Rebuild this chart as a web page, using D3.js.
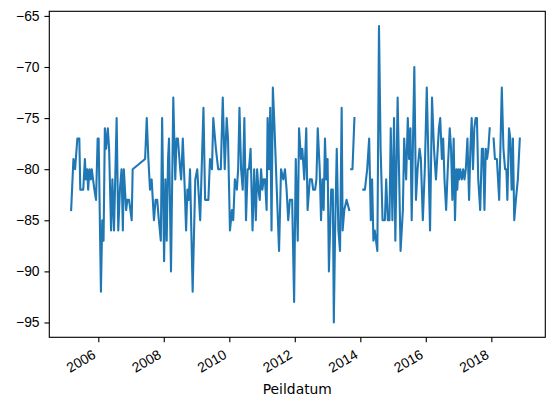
<!DOCTYPE html>
<html>
<head>
<meta charset="utf-8">
<script src="https://cdn.jsdelivr.net/npm/d3@7"></script>
<style>
  body { margin: 0; background: #fff; }
  svg { display: block; font-family: "DejaVu Sans", sans-serif; }
</style>
</head>
<body>
<svg id="chart" width="554" height="406"></svg>
<script>
// measurement dates as decimal years (null value = missing reading)
var peildatum = [
  2005.17, 2005.24, 2005.29, 2005.36, 2005.42, 2005.45, 2005.54, 2005.59, 2005.62, 2005.66,
  2005.69, 2005.73, 2005.77, 2005.80, 2005.88, 2005.93, 2005.98, 2006.01, 2006.08, 2006.12,
  2006.16, 2006.20, 2006.24, 2006.29, 2006.33, 2006.39, 2006.43, 2006.48, 2006.56, 2006.61,
  2006.66, 2006.71, 2006.75, 2006.78, 2006.85, 2006.89, 2006.94, 2007.02, 2007.05, 2007.43,
  2007.48, 2007.53, 2007.58, 2007.63, 2007.70, 2007.75, 2007.80, 2007.85, 2007.91, 2007.95,
  2008.01, 2008.05, 2008.09, 2008.13, 2008.16, 2008.22, 2008.29, 2008.35, 2008.39, 2008.43,
  2008.50, 2008.53, 2008.58, 2008.64, 2008.68, 2008.72, 2008.76, 2008.80, 2008.88, 2008.96,
  2009.02, 2009.11, 2009.21, 2009.26, 2009.36, 2009.41, 2009.47, 2009.51, 2009.59, 2009.66,
  2009.74, 2009.80, 2009.86, 2009.92, 2009.96, 2010.02, 2010.08, 2010.12, 2010.17, 2010.23,
  2010.27, 2010.31, 2010.36, 2010.41, 2010.46, 2010.51, 2010.56, 2010.60, 2010.65, 2010.71,
  2010.76, 2010.81, 2010.85, 2010.89, 2010.93, 2010.97, 2011.01, 2011.05, 2011.09, 2011.14,
  2011.17, 2011.21, 2011.25, 2011.29, 2011.33, 2011.37, 2011.45, 2011.52, 2011.58, 2011.65,
  2011.70, 2011.75, 2011.80, 2011.85, 2011.92, 2011.98, 2012.03, 2012.09, 2012.13, 2012.19,
  2012.23, 2012.29, 2012.35, 2012.39, 2012.46, 2012.52, 2012.56, 2012.62, 2012.66, 2012.70,
  2012.76, 2012.80, 2012.84, 2012.88, 2012.92, 2012.96, 2013.00, 2013.04, 2013.11, 2013.16,
  2013.19, 2013.23, 2013.28, 2013.33, 2013.38, 2013.43, 2013.46, 2013.51, 2013.58, 2013.66,
  2013.69, 2013.72, 2013.76, 2013.82, 2013.95, 2014.09, 2014.14, 2014.21, 2014.27, 2014.32,
  2014.36, 2014.40, 2014.44, 2014.52, 2014.57, 2014.62, 2014.68, 2014.75, 2014.79, 2014.84,
  2014.89, 2014.93, 2014.98, 2015.03, 2015.07, 2015.14, 2015.23, 2015.30, 2015.34, 2015.40,
  2015.45, 2015.49, 2015.53, 2015.57, 2015.61, 2015.65, 2015.70, 2015.75, 2015.81, 2015.85,
  2015.91, 2015.97, 2016.03, 2016.08, 2016.13, 2016.19, 2016.25, 2016.31, 2016.40, 2016.44,
  2016.49, 2016.53, 2016.57, 2016.62, 2016.67, 2016.73, 2016.77, 2016.81, 2016.85, 2016.89,
  2016.93, 2016.96, 2016.99, 2017.02, 2017.05, 2017.10, 2017.14, 2017.18, 2017.22, 2017.27,
  2017.32, 2017.36, 2017.40, 2017.44, 2017.48, 2017.52, 2017.56, 2017.60, 2017.66, 2017.71,
  2017.75, 2017.79, 2017.83, 2017.87, 2017.91, 2017.95, 2018.01, 2018.07, 2018.11, 2018.17,
  2018.24, 2018.32, 2018.37, 2018.42, 2018.46, 2018.49, 2018.54, 2018.58, 2018.62, 2018.66,
  2018.70, 2018.75, 2018.81, 2018.87
];

var waarde = [
  -84, -79, -80, -77, -77, -82, -82, -79, -81, -80,
  -82, -80, -81, -80, -82, -83, -77, -77, -92, -85,
  -87, -76, -78, -76, -78, -86, -81, -86, -75, -86,
  -82, -80, -86, -80, -84, -83, -83, -85, -80, -79,
  -75, -79, -82, -81, -85, -83, -83, -85, -87, -75,
  -89, -81, -87, -79, -77, -90, -73, -81, -77, -77,
  -80, -81, -77, -82, -86, -82, -83, -80, -92, -81,
  -80, -85, -74, -83, -83, -79, -80, -75, -78, -80,
  -80, -73, -80, -75, -77, -86, -84, -85, -81, -82,
  -80, -74, -80, -82, -75, -85, -80, -80, -78, -86,
  -80, -85, -80, -82, -83, -80, -82, -81, -81, -84,
  -75, -80, -74, -86, -72, -75, -82, -88, -80, -81,
  -80, -82, -85, -83, -83, -93, -79, -87, -76, -79,
  -78, -81, -76, -84, -81, -81, -82, -82, -81, -76,
  -80, -85, -81, -84, -77, -81, -79, -90, -82, -82,
  -95, -86, -78, -86, -88, -74, -86, -84, -83, -84,
  null, -80, -80, -75, null, -82, -82, -80, -77, -85,
  -81, -87, -86, -88, -66, -78, -85, -85, -81, -85,
  -85, -76, -85, -75, -87, -73, -88, -84, -77, -81,
  -75, -79, -76, -85, -77, -70, -83, -80, -78, -79,
  -85, -80, -72, -79, -86, -73, -78, -81, -76, -75,
  -79, -77, -81, -84, -80, -76, -78, -83, -77, -85,
  -80, -82, -80, -81, -80, -81, -80, -81, -80, -77,
  -83, -78, -75, -80, -76, -75, -75, -81, -84, -78,
  -78, -84, -78, -79, -78, -76, null, -77, -79, -79,
  -83, -72, -78, -80, -80, -83, -76, -77, -82, -77,
  -85, -83, -81, -77
];

var yTicks = [-95, -90, -85, -80, -75, -70, -65];
var xLimits = [2004.504, 2019.649];
var yLimits = [-96.45, -64.55];
var xLabel = 'Peildatum';

var margin = {top: 11.3, right: 8.7, bottom: 68.7, left: 49.3};
var width = 554 - margin.left - margin.right;
var height = 406 - margin.top - margin.bottom;
var pt = 100 / 72;

function toDate(t) {
  var y = Math.floor(t);
  var start = Date.UTC(y, 0, 1), end = Date.UTC(y + 1, 0, 1);
  return new Date(start + (t - y) * (end - start));
}

var ds = peildatum.map(function(t, i) {
  return {date: toDate(t), value: waarde[i]};
});

var svg = d3.select('#chart');
var g = svg.append('g')
  .attr('transform', 'translate(' + margin.left + ',' + margin.top + ')');

var xScale = d3.scaleUtc()
  .domain(xLimits.map(toDate))
  .range([0, width]);

var yScale = d3.scaleLinear()
  .domain(yLimits)
  .range([height, 0]);

var line = d3.line()
  .defined(function(d) { return d.value !== null; })
  .x(function(d) { return xScale(d.date); })
  .y(function(d) { return yScale(d.value); });

g.append('path')
  .datum(ds)
  .attr('fill', 'none')
  .attr('stroke', '#1f77b4')
  .attr('stroke-width', 1.5 * pt)
  .attr('stroke-linejoin', 'round')
  .attr('stroke-linecap', 'square')
  .attr('d', line);

// y axis
var yAxis = d3.axisLeft(yScale)
  .tickValues(yTicks)
  .tickSize(3.5 * pt)
  .tickPadding(3.5 * pt)
  .tickFormat(d3.format('d'));

var yG = g.append('g').call(yAxis);
yG.select('.domain').remove();
yG.selectAll('line').attr('stroke', '#000').attr('stroke-width', 0.8 * pt);
yG.selectAll('text')
  .attr('fill', '#000')
  .attr('font-size', 10 * pt)
  .attr('dy', '0.32em');

// x axis
var xAxis = d3.axisBottom(xScale)
  .ticks(d3.utcYear.every(2))
  .tickSize(3.5 * pt)
  .tickFormat(d3.utcFormat('%Y'));

var xG = g.append('g')
  .attr('transform', 'translate(0,' + height + ')')
  .call(xAxis);
xG.select('.domain').remove();
xG.selectAll('line').attr('stroke', '#000').attr('stroke-width', 0.8 * pt);
xG.selectAll('text')
  .attr('fill', '#000')
  .attr('font-size', 10 * pt)
  .attr('text-anchor', 'end')
  .attr('y', 0)
  .attr('dy', 0)
  .attr('transform', 'translate(-2,' + 20.2 + ') rotate(-30)');

// frame
g.append('rect')
  .attr('width', width)
  .attr('height', height)
  .attr('fill', 'none')
  .attr('stroke', '#000')
  .attr('stroke-width', 0.8 * pt);

g.append('text')
  .attr('x', width / 2)
  .attr('y', height + 57)
  .attr('text-anchor', 'middle')
  .attr('font-size', 10 * pt)
  .attr('fill', '#000')
  .text(xLabel);
</script>
</body>
</html>
